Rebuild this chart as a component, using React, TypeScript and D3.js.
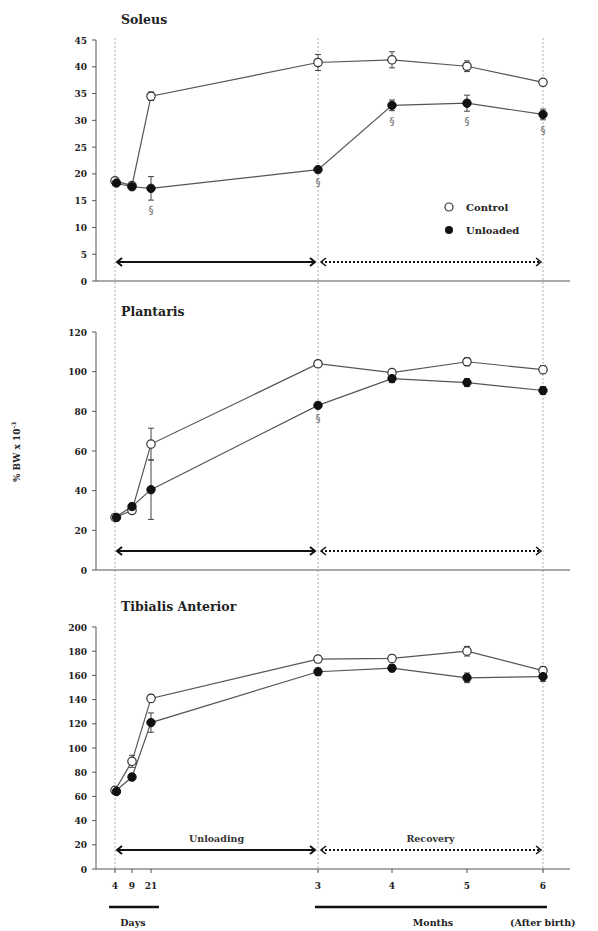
import React from "react";
import * as d3 from "d3";

// time points, in days after birth (3-6 months as 90..180 days)
const timeDays = [4, 9, 21, 90, 120, 150, 180];
const tickLabels = ["4", "9", "21", "3", "4", "5", "6"];

const soleusControl = [18.7, 17.8, 34.5, 40.8, 41.3, 40.1, 37.1];
const soleusControlErr = [0.6, 0.5, 0.8, 1.5, 1.5, 1.0, 0.5];
const soleusUnloaded = [18.3, 17.6, 17.3, 20.8, 32.8, 33.2, 31.1];
const soleusUnloadedErr = [0.5, 0.5, 2.2, 0.5, 1.0, 1.5, 1.0];
const soleusSig = [false, false, true, true, true, true, true];

const plantarisControl = [26.5, 30, 63.5, 104, 99.5, 105, 101];
const plantarisControlErr = [1, 1.5, 8, 1.5, 1.5, 2, 2];
const plantarisUnloaded = [26.5, 32, 40.5, 83, 96.5, 94.5, 90.5];
const plantarisUnloadedErr = [1, 1.5, 15, 1.5, 2, 2, 2];
const plantarisSig = [false, false, false, true, false, false, false];

const tibialisControl = [65, 89, 141, 173.5, 174, 180, 164];
const tibialisControlErr = [2, 5, 3, 3, 3, 4, 3];
const tibialisUnloaded = [64, 76, 121, 163, 166, 158, 159];
const tibialisUnloadedErr = [2, 3, 8, 3, 3, 4, 4];
const noSig = [false, false, false, false, false, false, false];

const panels = [
  { title: "Soleus", max: 45, step: 5, top: 40, base: 281, control: soleusControl, cErr: soleusControlErr, unloaded: soleusUnloaded, uErr: soleusUnloadedErr, sig: soleusSig, legend: true, labels: false },
  { title: "Plantaris", max: 120, step: 20, top: 332, base: 570, control: plantarisControl, cErr: plantarisControlErr, unloaded: plantarisUnloaded, uErr: plantarisUnloadedErr, sig: plantarisSig, legend: false, labels: false },
  { title: "Tibialis Anterior", max: 200, step: 20, top: 627, base: 869, control: tibialisControl, cErr: tibialisControlErr, unloaded: tibialisUnloaded, uErr: tibialisUnloadedErr, sig: noSig, legend: false, labels: true },
];

const FONT = "'DejaVu Serif', serif";
const axisX = 96;
const axisRight = 570;

const x = d3
  .scaleLinear()
  .domain(timeDays)
  .range([115, 132, 151, 318, 392, 467, 543]);

const line = d3.line<[number, number]>();

function Panel({ p }: { p: any }) {
  const y = d3.scaleLinear().domain([0, p.max]).range([p.base, p.top]);
  const ticks = d3.range(0, p.max + 0.001, p.step);
  const pts = (vals: number[]) => vals.map((v, i) => [x(timeDays[i]), y(v)] as [number, number]);
  const arrowY = p.base - 19;
  const x0 = x(4), x3 = x(90), x6 = x(180);

  const errBars = (vals: number[], errs: number[]) =>
    vals.map((v, i) => (
      <g key={i} stroke="#444" strokeWidth={1}>
        <line x1={x(timeDays[i])} x2={x(timeDays[i])} y1={y(v - errs[i])} y2={y(v + errs[i])} />
        <line x1={x(timeDays[i]) - 3} x2={x(timeDays[i]) + 3} y1={y(v - errs[i])} y2={y(v - errs[i])} />
        <line x1={x(timeDays[i]) - 3} x2={x(timeDays[i]) + 3} y1={y(v + errs[i])} y2={y(v + errs[i])} />
      </g>
    ));

  return (
    <g>
      <text x={121} y={p.top - 16} fontFamily={FONT} fontWeight="bold" fontSize={12.5} fill="#222">
        {p.title}
      </text>
      {/* y axis */}
      <line x1={axisX} x2={axisX} y1={p.top} y2={p.base} stroke="#555" />
      {ticks.map((t: number) => (
        <g key={t}>
          <line x1={axisX - 4} x2={axisX} y1={y(t)} y2={y(t)} stroke="#555" />
          <text x={axisX - 9} y={y(t) + 3.5} textAnchor="end" fontFamily={FONT} fontWeight="bold" fontSize={9} fill="#222">
            {t}
          </text>
        </g>
      ))}
      {/* x axis */}
      <line x1={axisX} x2={axisRight} y1={p.base} y2={p.base} stroke="#555" strokeWidth={1.2} />
      {p.labels &&
        timeDays.map((d, i) => (
          <g key={i}>
            <line x1={x(d)} x2={x(d)} y1={p.base} y2={p.base + 4} stroke="#555" />
            <text x={x(d)} y={p.base + 20} textAnchor="middle" fontFamily={FONT} fontWeight="bold" fontSize={9} fill="#222">
              {tickLabels[i]}
            </text>
          </g>
        ))}
      {/* period arrows */}
      <g fill="none" stroke="#111">
        <line x1={x0 + 2} x2={x3 - 3} y1={arrowY} y2={arrowY} strokeWidth={2.2} />
        <path d={`M${x0 + 7},${arrowY - 4}L${x0 + 2},${arrowY}L${x0 + 7},${arrowY + 4}`} strokeWidth={2} />
        <path d={`M${x3 - 8},${arrowY - 4}L${x3 - 3},${arrowY}L${x3 - 8},${arrowY + 4}`} strokeWidth={2} />
        <line x1={x3 + 3} x2={x6 - 2} y1={arrowY} y2={arrowY} strokeWidth={1.8} strokeDasharray="2,2" />
        <path d={`M${x3 + 8},${arrowY - 4}L${x3 + 3},${arrowY}L${x3 + 8},${arrowY + 4}`} strokeWidth={1.5} />
        <path d={`M${x6 - 7},${arrowY - 4}L${x6 - 2},${arrowY}L${x6 - 7},${arrowY + 4}`} strokeWidth={1.5} />
      </g>
      {p.labels && (
        <g fontFamily={FONT} fontWeight="bold" fontSize={9.5} fill="#333" textAnchor="middle">
          <text x={(x0 + x3) / 2} y={arrowY - 8}>Unloading</text>
          <text x={(x3 + x6) / 2} y={arrowY - 8}>Recovery</text>
        </g>
      )}
      {/* series */}
      <path d={line(pts(p.control)) || ""} fill="none" stroke="#555" strokeWidth={1.2} />
      <path d={line(pts(p.unloaded)) || ""} fill="none" stroke="#555" strokeWidth={1.2} />
      {errBars(p.control, p.cErr)}
      {errBars(p.unloaded, p.uErr)}
      {pts(p.control).map(([cx, cy], i) => (
        <circle key={"c" + i} cx={cx} cy={cy} r={4.2} fill="#fff" stroke="#333" strokeWidth={1.2} />
      ))}
      {pts(p.unloaded).map(([cx, cy], i) => (
        <circle key={"u" + i} cx={i === 0 ? cx + 1.5 : cx} cy={cy} r={4.2} fill="#111" stroke="#111" />
      ))}
      {p.sig.map((s: boolean, i: number) =>
        s ? (
          <text key={"s" + i} x={x(timeDays[i])} y={y(p.unloaded[i] - p.uErr[i]) + 14} textAnchor="middle" fontFamily="'DejaVu Sans', sans-serif" fontSize={10} fill="#666">
            §
          </text>
        ) : null
      )}
      {p.legend && (
        <g fontFamily={FONT} fontWeight="bold" fontSize={10} fill="#222">
          <circle cx={449} cy={207} r={4} fill="#fff" stroke="#333" strokeWidth={1.2} />
          <text x={466} y={211}>Control</text>
          <circle cx={449} cy={230} r={4} fill="#111" />
          <text x={466} y={234}>Unloaded</text>
        </g>
      )}
    </g>
  );
}

export default function App() {
  return (
    <svg width={598} height={931} style={{ position: "absolute", left: 0, top: 0, background: "#fff" }}>
      {/* dotted reference lines */}
      {[4, 90, 180].map((d) => (
        <line key={d} x1={x(d)} x2={x(d)} y1={38} y2={874} stroke="#999" strokeWidth={0.8} strokeDasharray="2,2" />
      ))}
      {panels.map((p) => (
        <Panel key={p.title} p={p} />
      ))}
      {/* y label */}
      <text transform="translate(20,452) rotate(-90)" textAnchor="middle" fontFamily={FONT} fontWeight="bold" fontSize={9} fill="#222">
        % BW x 10<tspan dy={-4} fontSize={6}>-3</tspan>
      </text>
      {/* time bars */}
      <line x1={109} x2={159} y1={907} y2={907} stroke="#111" strokeWidth={2.5} />
      <line x1={315} x2={547} y1={907} y2={907} stroke="#111" strokeWidth={2.5} />
      <g fontFamily={FONT} fontWeight="bold" fontSize={9.5} fill="#222">
        <text x={133} y={926} textAnchor="middle">Days</text>
        <text x={433} y={926} textAnchor="middle">Months</text>
        <text x={510} y={926}>(After birth)</text>
      </g>
    </svg>
  );
}
